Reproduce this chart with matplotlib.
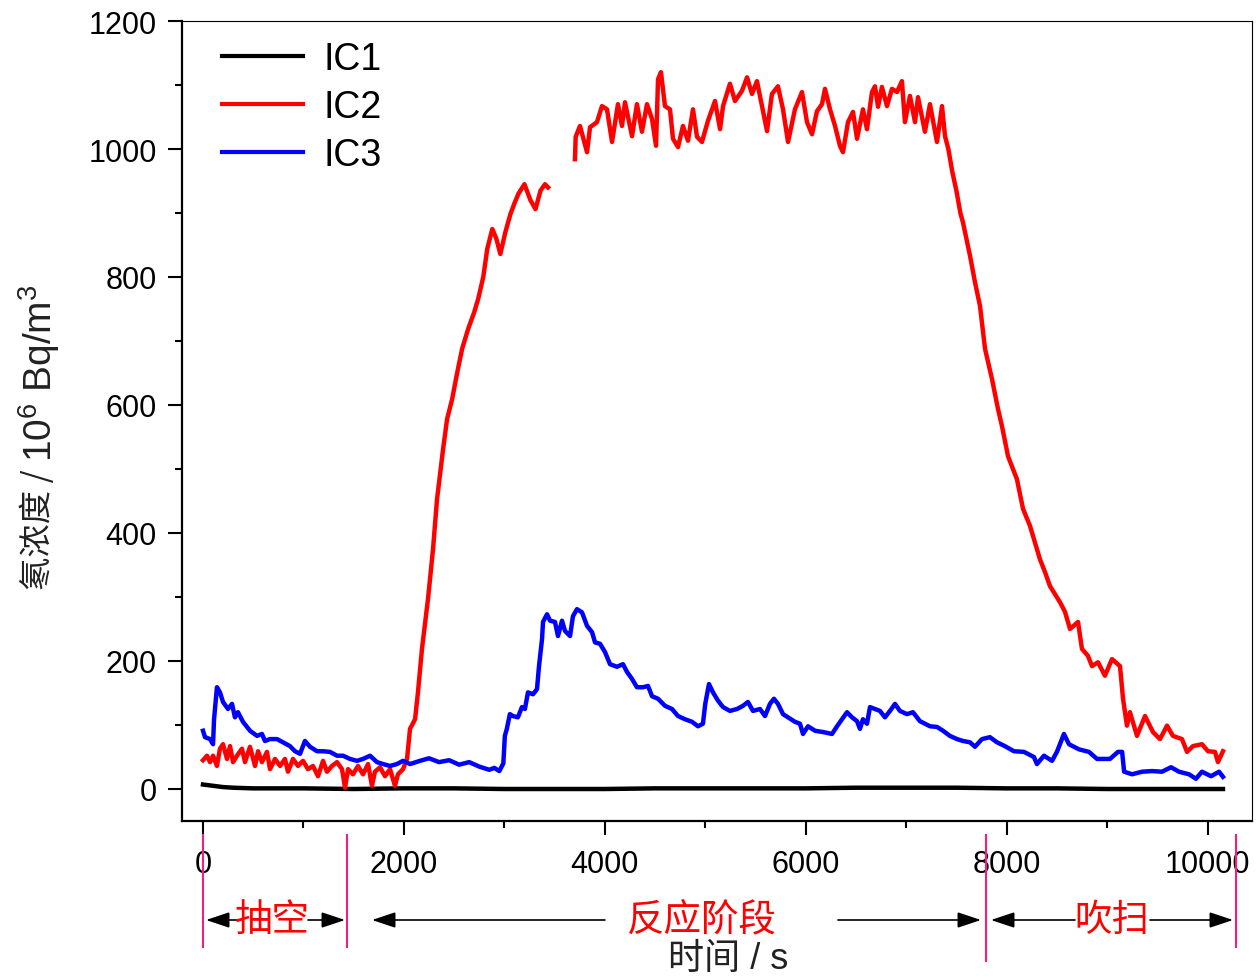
import numpy as np
import matplotlib
matplotlib.use("Agg")
import matplotlib.pyplot as plt
from matplotlib.patches import FancyArrowPatch
from matplotlib.lines import Line2D
from matplotlib.ticker import MultipleLocator

plt.rcParams['font.family'] = ['Liberation Sans', 'Noto Sans CJK SC', 'DejaVu Sans']
plt.rcParams['mathtext.fontset'] = 'custom'
plt.rcParams['mathtext.rm'] = 'Liberation Sans'
plt.rcParams['mathtext.it'] = 'Liberation Sans'

# ---------------- data (time in s, concentration in 10^6 Bq/m^3) ----------------
ic1_t = [0, 50, 100, 200, 300, 500, 800, 1000, 1500, 2000, 2500, 3000, 3500, 4000, 4500,
         5000, 5500, 6000, 6500, 7000, 7500, 8000, 8500, 9000, 9500, 10154]
ic1_v = [7, 6, 5, 3, 2, 1, 1, 1, 0, 1, 1, 0, 0, 0, 1,
         1, 1, 1, 2, 2, 2, 1, 1, 0, 0, 0]

ic2_t = [0, 40, 70, 100, 139, 169, 199, 239, 269, 299, 338, 388, 418, 468, 518, 548, 587, 637,
         667, 717, 767, 816, 846, 896, 946, 996, 1045, 1095, 1145, 1195, 1234, 1284, 1334,
         1384, 1414, 1444, 1493, 1543, 1593, 1643, 1682, 1712, 1762, 1812, 1862, 1911, 1941,
         1991, 2031, 2061, 2111, 2140, 2180, 2240, 2290, 2330, 2390, 2430, 2480, 2530, 2580,
         2640, 2700, 2740, 2790, 2830, 2880, 2920, 2960, 3010, 3060, 3100, 3140, 3200, 3260,
         3310, 3360, 3405, 3435, 3500,
         3703, 3710, 3753, 3823, 3853, 3922, 3972, 4022, 4072, 4131, 4171, 4201, 4271, 4320,
         4370, 4420, 4470, 4510, 4530, 4559, 4599, 4649, 4679, 4729, 4778, 4828, 4878, 4918,
         4967, 5027, 5097, 5147, 5177, 5246, 5296, 5366, 5416, 5465, 5515, 5565, 5615, 5664,
         5724, 5774, 5824, 5893, 5963, 6013, 6063, 6112, 6162, 6192, 6242, 6292, 6341, 6371,
         6421, 6471, 6511, 6570, 6610, 6660, 6690, 6720, 6759, 6809, 6859, 6909, 6958, 6988,
         7038, 7088, 7118, 7187, 7237, 7307, 7357, 7387, 7420, 7460, 7500, 7540, 7566, 7636,
         7685, 7735, 7785, 7854, 7914, 7954, 8014, 8103, 8163, 8233, 8302, 8332, 8382, 8432,
         8531, 8581, 8631, 8711, 8750, 8810, 8850, 8910, 8979, 9049, 9129, 9159, 9198, 9228,
         9298, 9378, 9457, 9527, 9597, 9656, 9746, 9796, 9855, 9945, 10005, 10075, 10104, 10154]
ic2_v = [45, 52, 42, 52, 36, 63, 70, 47, 67, 42, 52, 63, 42, 66, 36, 59, 42, 58,
         31, 47, 36, 47, 27, 47, 36, 44, 31, 36, 20, 44, 27, 36, 42,
         31, 2, 31, 23, 36, 23, 39, 5, 27, 34, 20, 31, 5, 23,
         31, 47, 94, 109, 151, 219, 297, 375, 453, 531, 578, 609, 650, 688,
         719, 745, 766, 800, 844, 875, 860, 836, 870, 898, 915, 930, 945, 920,
         906, 935, 945, 940, np.nan,
         984, 1019, 1036, 995, 1034, 1042, 1067, 1062, 1011, 1070, 1036, 1073, 1020, 1070,
         1027, 1070, 1047, 1005, 1109, 1120, 1067, 1062, 1016, 1003, 1036, 1013, 1062, 1019,
         1011, 1044, 1075, 1031, 1067, 1102, 1075, 1091, 1112, 1086, 1106, 1067, 1028, 1086,
         1098, 1062, 1011, 1062, 1089, 1042, 1023, 1059, 1070, 1094, 1062, 1036, 1005, 995,
         1042, 1058, 1016, 1062, 1031, 1089, 1098, 1066, 1097, 1067, 1094, 1089, 1106, 1042,
         1083, 1042, 1081, 1027, 1070, 1011, 1067, 1020, 1000, 964, 935, 900, 885, 833,
         792, 755, 688, 641, 594, 567, 520, 484, 438, 411, 375, 359, 339, 317,
         292, 277, 250, 261, 219, 208, 192, 198, 177, 203, 192, 141, 99, 120,
         83, 114, 89, 78, 99, 83, 78, 58, 67, 70, 59, 58, 42, 59]

ic3_t = [0, 20, 70, 100, 110, 139, 169, 199, 249, 289, 318, 348, 398, 468, 538, 587, 617, 667,
         737, 796, 866, 916, 966, 1015, 1065, 1135, 1195, 1264, 1334, 1394, 1463, 1533, 1593,
         1663, 1732, 1792, 1862, 1931, 1991, 2061, 2160, 2250, 2350, 2450, 2550, 2650, 2750,
         2850, 2900, 2950, 2990, 3005, 3025, 3055, 3085, 3135, 3175, 3205, 3235, 3285, 3325,
         3345, 3375, 3385, 3425, 3455, 3504, 3534, 3574, 3604, 3654, 3683, 3723, 3773, 3823,
         3873, 3903, 3952, 4002, 4052, 4121, 4181, 4221, 4271, 4320, 4380, 4430, 4470, 4530,
         4599, 4669, 4729, 4798, 4868, 4928, 4977, 5000, 5037, 5077, 5127, 5177, 5246, 5316,
         5376, 5425, 5475, 5545, 5595, 5644, 5684, 5724, 5774, 5824, 5893, 5943, 5973, 6023,
         6093, 6172, 6262, 6312, 6361, 6411, 6461, 6511, 6540, 6570, 6610, 6640, 6690, 6739,
         6789, 6839, 6889, 6938, 7008, 7068, 7137, 7187, 7237, 7307, 7367, 7436, 7506, 7566,
         7635, 7685, 7755, 7834, 7904, 7983, 8073, 8173, 8272, 8302, 8372, 8452, 8501, 8571,
         8621, 8720, 8820, 8900, 9029, 9109, 9150, 9170, 9249, 9348, 9447, 9547, 9637, 9716,
         9816, 9885, 9945, 10035, 10115, 10154]
ic3_v = [91, 81, 78, 70, 109, 159, 151, 136, 125, 133, 112, 120, 105, 91, 83, 86, 75, 78,
         78, 73, 67, 59, 55, 75, 66, 59, 59, 58, 52, 52, 47, 44, 47,
         52, 42, 39, 36, 39, 44, 39, 44, 48, 42, 45, 38, 42, 35,
         30, 33, 28, 40, 83, 94, 117, 114, 112, 128, 125, 151, 148, 156,
         192, 234, 261, 273, 263, 261, 239, 263, 247, 239, 270, 281, 276, 255,
         245, 229, 227, 214, 195, 191, 195, 183, 172, 159, 159, 161, 145, 141,
         130, 125, 114, 109, 105, 98, 102, 133, 164, 151, 138, 128, 122, 125,
         130, 136, 122, 125, 114, 133, 141, 133, 117, 112, 105, 102, 86, 98,
         91, 89, 86, 98, 109, 120, 112, 106, 94, 109, 102, 128, 125, 122,
         112, 122, 133, 122, 117, 120, 106, 102, 98, 97, 91, 83, 78, 75,
         73, 66, 78, 81, 73, 67, 59, 58, 50, 39, 52, 44, 58, 86,
         70, 62, 58, 47, 47, 58, 58, 27, 23, 27, 28, 27, 34, 27,
         23, 16, 27, 20, 27, 19]

labels = ['IC1', 'IC2', 'IC3']
colors = ['#000000', '#FF0000', '#0000FF']

x_ticks = [0, 2000, 4000, 6000, 8000, 10000]
y_ticks = [0, 200, 400, 600, 800, 1000, 1200]

stage_names = ['抽空', '反应阶段', '吹扫']
xlabel = '时间 / s'
ylabel_cn = '氡浓度 / '
ylabel_unit = '10$^{6}$ Bq/m$^{3}$'

# ---------------- figure ----------------
W, H = 1259, 979
fig = plt.figure(figsize=(W / 100, H / 100), dpi=100)

def fx(px):
    return px / W

def fy(py):
    return 1 - py / H

ax = fig.add_axes([fx(182), fy(822), fx(1252) - fx(182), fy(22) - fy(822)])

lw = 3.2
for t, v, lab, c in zip([ic1_t, ic2_t, ic3_t], [ic1_v, ic2_v, ic3_v], labels, colors):
    ax.plot(t, v, color=c, lw=lw, label=lab)

ax.set_xlim(-209, 10443)
ax.set_ylim(-50, 1200)
ax.set_xticks(x_ticks)
ax.set_yticks(y_ticks)
ax.xaxis.set_minor_locator(MultipleLocator(1000))
ax.yaxis.set_minor_locator(MultipleLocator(100))
ax.tick_params(axis='both', which='major', direction='out', length=10, width=1.5,
               labelsize=22, pad=8)
ax.tick_params(axis='both', which='minor', direction='out', length=5, width=1.5)
ax.tick_params(axis='x', which='major', pad=10)
for s in ['left', 'bottom']:
    ax.spines[s].set_linewidth(1.6)
for s in ['top', 'right']:
    ax.spines[s].set_linewidth(0.8)

leg = ax.legend(loc='upper left', bbox_to_anchor=(fx(229) - fx(182), 1 - (42 - 22) / 800),
                frameon=False, fontsize=27, handlelength=2.15, handletextpad=0.55,
                labelspacing=0.32, borderaxespad=0, borderpad=0)
for h in leg.legend_handles:
    h.set_linewidth(3.0)

# y label: Chinese part and unit part placed end to end (text rotated 90°)
split_py = 462
fig.text(fx(39), fy(split_py), ylabel_cn, rotation=90, ha='center', va='top', fontsize=24,
         color='#222222', family=['Noto Sans CJK SC', 'Liberation Sans'])
fig.text(fx(39), fy(split_py), ylabel_unit, rotation=90, ha='center', va='bottom', fontsize=28,
         color='#222222')

fig.text(fx(728), fy(977), xlabel, ha='center', va='bottom', fontsize=26, color='#222222')

# stage markers below the axis
pink = '#F0207F'
for px, y2 in [(203, 948), (347, 948), (986, 962), (1236, 948)]:
    fig.add_artist(Line2D([fx(px), fx(px)], [fy(836), fy(y2)], transform=fig.transFigure,
                          color=pink, lw=1.5))

yrow = 921
text_pos = [272, 702, 1112]
for name, px in zip(stage_names, text_pos):
    fig.text(fx(px), fy(yrow), name, ha='center', va='center', fontsize=27, color='#FF0000')

arrows = [(237, 206), (308, 345), (605, 372), (838, 981), (1075, 991), (1150, 1233)]
for tail, head in arrows:
    fig.add_artist(FancyArrowPatch((fx(tail), fy(yrow)), (fx(head), fy(yrow)),
                                   transform=fig.transFigure,
                                   arrowstyle='-|>,head_length=1.2,head_width=0.4',
                                   mutation_scale=12, lw=1.2, color='black',
                                   shrinkA=0, shrinkB=0))

fig.savefig('out.png', dpi=100)
